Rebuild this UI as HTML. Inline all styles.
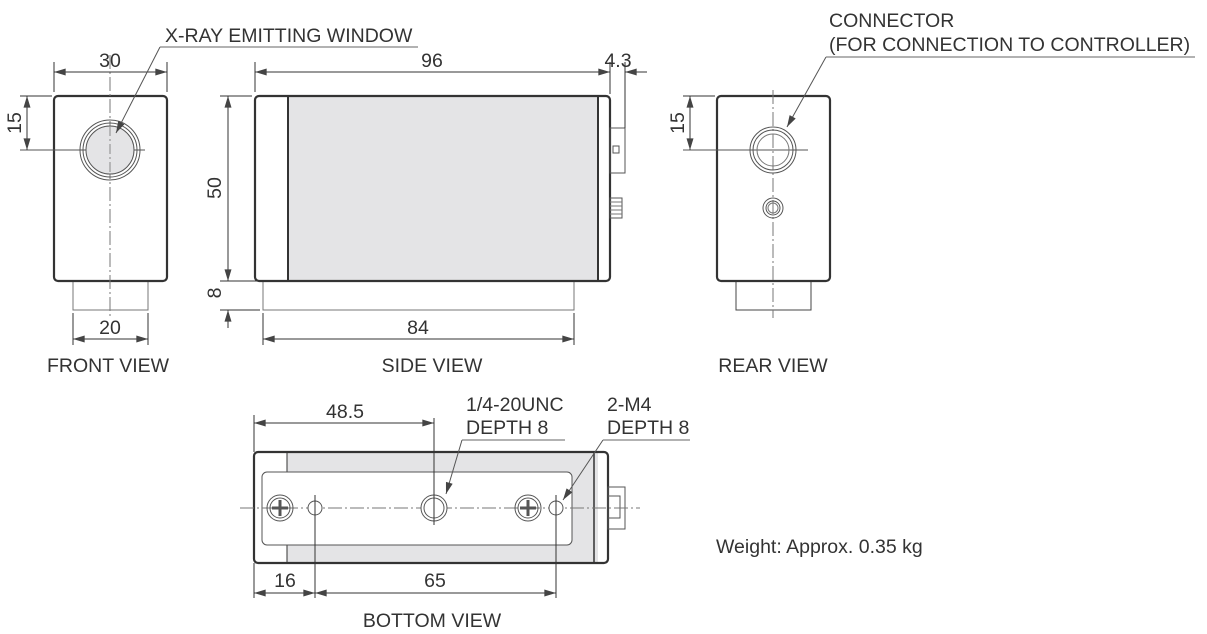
<!DOCTYPE html>
<html><head><meta charset="utf-8"><style>
html,body{margin:0;padding:0;background:#fff;}
svg{display:block;}
text{font-family:"Liberation Sans",Arial,sans-serif;fill:#333;}
.t{font-size:19.5px;}
.l{font-size:19.5px;}
</style></head><body>
<svg width="1207" height="634" viewBox="0 0 1207 634" xmlns="http://www.w3.org/2000/svg">
<defs>
<marker id="a" viewBox="0 0 10 6" refX="10" refY="3" markerWidth="15" markerHeight="7" orient="auto-start-reverse" markerUnits="userSpaceOnUse"><path d="M0,0 L10,3 L0,6 z" fill="#444"/></marker>
</defs>
<g stroke="#333" fill="none" stroke-width="1">
<!-- FRONT VIEW -->
<rect x="73" y="281" width="75" height="29" stroke="#777"/>
<rect x="54" y="96" width="113" height="185" rx="4" stroke-width="2.2"/>
<line x1="110" y1="55" x2="110" y2="318" stroke="#777" stroke-dasharray="14,3,2,3"/>
<line x1="20" y1="150" x2="145" y2="150" stroke="#555"/>
<circle cx="110" cy="150" r="30" stroke="#555"/>
<circle cx="110" cy="150" r="27" stroke="#555"/>
<circle cx="110" cy="150" r="24" fill="#e4e4e6" stroke="#555"/>
<line x1="110" y1="126" x2="110" y2="174" stroke="#888" stroke-dasharray="10,3,2,3"/>
<line x1="54" y1="62" x2="54" y2="92"/><line x1="167" y1="62" x2="167" y2="92"/>
<line x1="54" y1="72" x2="167" y2="72" marker-start="url(#a)" marker-end="url(#a)"/>
<line x1="20" y1="96" x2="52" y2="96"/>
<line x1="27" y1="96" x2="27" y2="150" marker-start="url(#a)" marker-end="url(#a)"/>
<line x1="73" y1="313" x2="73" y2="345"/><line x1="148" y1="313" x2="148" y2="345"/>
<line x1="73" y1="339" x2="148" y2="339" marker-start="url(#a)" marker-end="url(#a)"/>
<line x1="160" y1="47" x2="418" y2="47" stroke="#666"/>
<line x1="160" y1="47" x2="116" y2="133" stroke="#555" marker-end="url(#a)"/>
<!-- SIDE VIEW -->
<rect x="263" y="281" width="311" height="29" stroke="#777"/>
<rect x="288" y="97" width="310" height="183" fill="#e4e4e6" stroke="none"/>
<rect x="255" y="96" width="355" height="185" rx="4" stroke-width="2.2"/>
<line x1="288" y1="96" x2="288" y2="281" stroke-width="2"/>
<line x1="598" y1="96" x2="598" y2="281" stroke-width="2"/>
<rect x="610" y="128" width="15" height="45" stroke="#555"/>
<rect x="613" y="146" width="6" height="7" stroke="#555"/>
<rect x="610" y="198" width="12" height="20" stroke="#555"/>
<path d="M610,202h12M610,206h12M610,210h12M610,214h12" stroke="#777"/>
<line x1="255" y1="62" x2="255" y2="92"/><line x1="610" y1="62" x2="610" y2="94"/><line x1="625" y1="62" x2="625" y2="128"/>
<line x1="255" y1="72" x2="610" y2="72" marker-start="url(#a)" marker-end="url(#a)"/>
<line x1="647" y1="72" x2="625" y2="72" marker-end="url(#a)"/>
<line x1="220" y1="96" x2="252" y2="96"/><line x1="220" y1="281" x2="260" y2="281"/><line x1="220" y1="310" x2="260" y2="310"/>
<line x1="228" y1="96" x2="228" y2="281" marker-start="url(#a)" marker-end="url(#a)"/>
<line x1="228" y1="328" x2="228" y2="310" marker-end="url(#a)"/>
<line x1="263" y1="313" x2="263" y2="345"/><line x1="574" y1="313" x2="574" y2="345"/>
<line x1="263" y1="339" x2="574" y2="339" marker-start="url(#a)" marker-end="url(#a)"/>
<!-- REAR VIEW -->
<rect x="736" y="281" width="75" height="29" stroke="#444"/>
<rect x="717" y="96" width="113" height="185" rx="4" stroke-width="2.2"/>
<line x1="773" y1="90" x2="773" y2="318" stroke="#777" stroke-dasharray="14,3,2,3"/>
<line x1="683" y1="150" x2="808" y2="150" stroke="#555"/>
<circle cx="773" cy="150" r="23" stroke="#555"/>
<circle cx="773" cy="150" r="20" stroke="#555"/>
<circle cx="773" cy="150" r="16" stroke="#777"/>
<circle cx="773" cy="208" r="10" stroke="#555"/>
<circle cx="773" cy="208" r="7" stroke="#555"/>
<circle cx="773" cy="208" r="5" stroke="#777"/>
<line x1="683" y1="96" x2="715" y2="96"/>
<line x1="690" y1="96" x2="690" y2="150" marker-start="url(#a)" marker-end="url(#a)"/>
<line x1="826" y1="57" x2="1195" y2="57" stroke="#666"/>
<line x1="826" y1="57" x2="787" y2="127" stroke="#555" marker-end="url(#a)"/>
<!-- BOTTOM VIEW -->
<rect x="287" y="453" width="311" height="109" fill="#e4e4e6" stroke="none"/>
<rect x="254" y="452" width="354" height="111" rx="4" stroke-width="2.2"/>
<line x1="287" y1="452" x2="287" y2="472"/><line x1="287" y1="545" x2="287" y2="563"/>
<line x1="594" y1="452" x2="594" y2="563" stroke-width="1.5"/>
<rect x="262" y="472" width="310" height="73" rx="5" fill="#fff" stroke="#555"/>
<rect x="608" y="487" width="17" height="42" stroke="#555"/>
<rect x="608" y="496" width="12" height="22" stroke="#555"/>
<line x1="240" y1="508" x2="640" y2="508" stroke="#777" stroke-dasharray="14,3,2,3"/>
<circle cx="280" cy="508" r="13" stroke="#555"/><circle cx="280" cy="508" r="10" stroke="#555"/>
<path d="M280,500v16M272,508h16" stroke="#555" stroke-width="3"/>
<circle cx="528" cy="508" r="13" stroke="#555"/><circle cx="528" cy="508" r="10" stroke="#555"/>
<path d="M528,500v16M520,508h16" stroke="#555" stroke-width="3"/>
<circle cx="315" cy="508" r="7" fill="#fff" stroke="#555"/>
<circle cx="556" cy="508" r="7" fill="#fff" stroke="#555"/>
<circle cx="434" cy="508" r="13" fill="#fff" stroke="#555"/>
<circle cx="434" cy="508" r="10" stroke="#555"/>
<line x1="434" y1="418" x2="434" y2="525"/>
<line x1="254" y1="415" x2="254" y2="452"/>
<line x1="254" y1="423" x2="434" y2="423" marker-start="url(#a)" marker-end="url(#a)"/>
<line x1="254" y1="563" x2="254" y2="598"/><line x1="315" y1="495" x2="315" y2="598"/><line x1="556" y1="495" x2="556" y2="598"/>
<line x1="254" y1="593" x2="315" y2="593" marker-start="url(#a)" marker-end="url(#a)"/>
<line x1="315" y1="593" x2="556" y2="593" marker-start="url(#a)" marker-end="url(#a)"/>
<line x1="462" y1="440" x2="565" y2="440" stroke="#666"/>
<line x1="462" y1="440" x2="446" y2="494" stroke="#555" marker-end="url(#a)"/>
<line x1="603" y1="440" x2="690" y2="440" stroke="#666"/>
<line x1="603" y1="440" x2="563" y2="500" stroke="#555" marker-end="url(#a)"/>
</g>
<!-- text -->
<text class="t" x="165" y="42">X-RAY EMITTING WINDOW</text>
<text class="t" x="110" y="67" text-anchor="middle">30</text>
<text class="t" x="110" y="334" text-anchor="middle">20</text>
<text class="t" transform="translate(21,123) rotate(-90)" text-anchor="middle">15</text>
<text class="t" x="432" y="67" text-anchor="middle">96</text>
<text class="t" x="618" y="67" text-anchor="middle">4.3</text>
<text class="t" transform="translate(221,188) rotate(-90)" text-anchor="middle">50</text>
<text class="t" transform="translate(221,293) rotate(-90)" text-anchor="middle">8</text>
<text class="t" x="418" y="334" text-anchor="middle">84</text>
<text class="t" transform="translate(684,123) rotate(-90)" text-anchor="middle">15</text>
<text class="t" x="829" y="27">CONNECTOR</text>
<text class="t" x="829" y="51">(FOR CONNECTION TO CONTROLLER)</text>
<text class="l" x="108" y="372" text-anchor="middle">FRONT VIEW</text>
<text class="l" x="432" y="372" text-anchor="middle">SIDE VIEW</text>
<text class="l" x="773" y="372" text-anchor="middle">REAR VIEW</text>
<text class="t" x="345" y="418" text-anchor="middle">48.5</text>
<text class="t" x="466" y="411">1/4-20UNC</text>
<text class="t" x="466" y="434">DEPTH 8</text>
<text class="t" x="607" y="411">2-M4</text>
<text class="t" x="607" y="434">DEPTH 8</text>
<text class="t" x="285" y="587" text-anchor="middle">16</text>
<text class="t" x="435" y="587" text-anchor="middle">65</text>
<text class="l" x="432" y="627" text-anchor="middle">BOTTOM VIEW</text>
<text class="t" x="716" y="553">Weight: Approx. 0.35 kg</text>
</svg>
</body></html>
